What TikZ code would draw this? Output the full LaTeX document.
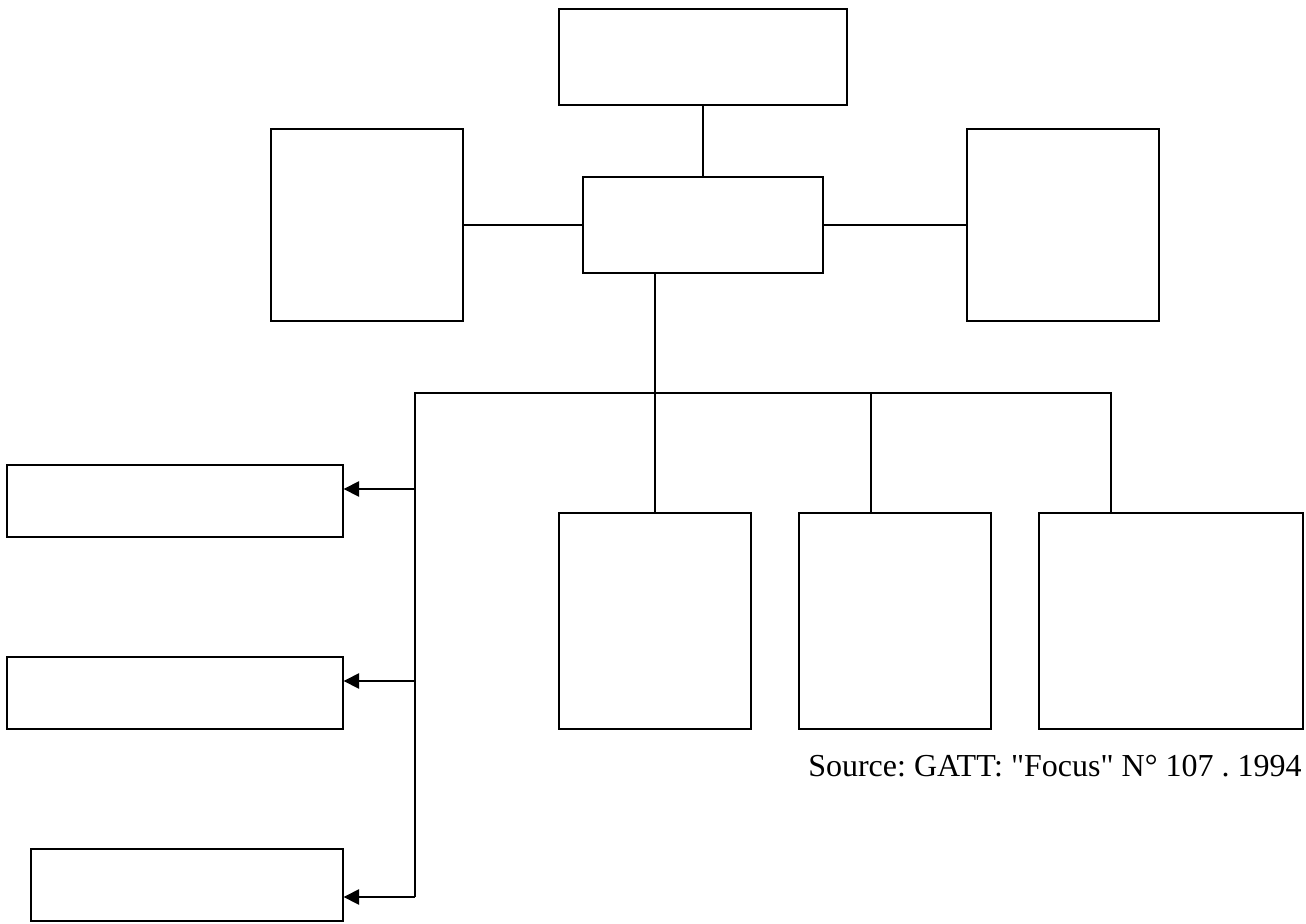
\documentclass[tikz,border=0pt]{standalone}
\usepackage{fontspec}
\setmainfont{Liberation Serif}
\usepackage{tikz}
\usetikzlibrary{arrows.meta}
\tikzstyle{box} = [draw, rectangle, inner sep=0pt, line width=1pt]
\tikzstyle{arrow} = [-{Triangle[length=11.5pt,width=11.5pt]}, line width=1pt]
\frenchspacing

\begin{document}
\begin{tikzpicture}[x=0.75pt, y=-0.75pt]
\useasboundingbox (0,0) rectangle (1306,924);
\node[box, minimum width=288*0.75pt, minimum height=96*0.75pt] (head) at (703,57) {};
\node[box, minimum width=240*0.75pt, minimum height=96*0.75pt] (core) at (703,225) {};
\node[box, minimum width=192*0.75pt, minimum height=192*0.75pt] (west) at (367,225) {};
\node[box, minimum width=192*0.75pt, minimum height=192*0.75pt] (east) at (1063,225) {};
\node[box, minimum width=192*0.75pt, minimum height=216*0.75pt] (unitA) at (655,621) {};
\node[box, minimum width=192*0.75pt, minimum height=216*0.75pt] (unitB) at (895,621) {};
\node[box, minimum width=264*0.75pt, minimum height=216*0.75pt] (unitC) at (1171,621) {};
\node[box, minimum width=336*0.75pt, minimum height=72*0.75pt] (sideA) at (175,501) {};
\node[box, minimum width=336*0.75pt, minimum height=72*0.75pt] (sideB) at (175,693) {};
\node[box, minimum width=312*0.75pt, minimum height=72*0.75pt] (sideC) at (187,885) {};
\coordinate (busL) at (415,393);
\coordinate (busB) at (871,393);
\coordinate (busR) at (1111,393);
\coordinate (tapA) at (415,489);
\coordinate (tapB) at (415,681);
\coordinate (busD) at (415,897);
\draw[line width=1pt] (head) -- (core);
\draw[line width=1pt] (west) -- (core);
\draw[line width=1pt] (core) -- (east);
\draw[line width=1pt] (core.south -| unitA) -- (unitA.north);
\draw[line width=1pt] (busR |- unitC.north) -- (busR) -- (busL) -- (busD);
\draw[line width=1pt] (busB) -- (busB |- unitB.north);
\draw[arrow] (tapA) -- (tapA -| sideA.east);
\draw[arrow] (tapB) -- (tapB -| sideB.east);
\draw[arrow] (busD) -- (busD -| sideC.east);
\node[anchor=base west, inner sep=0pt, font=\fontsize{24}{28}\selectfont] (src) at (808,776) {Source: GATT: \textquotedbl Focus\textquotedbl{} N° 107 . 1994};
\end{tikzpicture}
\end{document}
